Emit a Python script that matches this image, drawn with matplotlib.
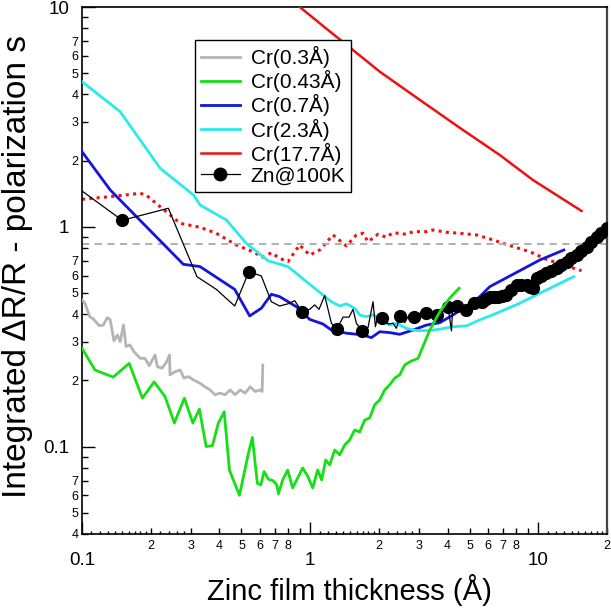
import matplotlib
matplotlib.use('Agg')
import matplotlib.pyplot as plt
from matplotlib.lines import Line2D
from matplotlib.ticker import FixedLocator, FixedFormatter, NullFormatter, NullLocator

plt.rcParams['font.family'] = ['Liberation Sans', 'DejaVu Sans']

# ---------------- data ----------------
gray_x = [0.100, 0.103, 0.108, 0.112, 0.119, 0.124, 0.129, 0.133, 0.138, 0.143, 0.147, 0.152, 0.156, 0.162,
          0.169, 0.180, 0.189, 0.197, 0.209, 0.214, 0.224, 0.235, 0.242, 0.243, 0.256, 0.269, 0.280, 0.293,
          0.308, 0.329, 0.346, 0.364, 0.383, 0.403, 0.424, 0.446, 0.469, 0.493, 0.519, 0.546, 0.574, 0.604,
          0.616, 0.620]
gray_y = [0.464, 0.449, 0.390, 0.381, 0.355, 0.357, 0.386, 0.377, 0.303, 0.322, 0.300, 0.357, 0.285, 0.290,
          0.270, 0.252, 0.252, 0.233, 0.261, 0.231, 0.227, 0.243, 0.261, 0.212, 0.219, 0.223, 0.205, 0.208,
          0.201, 0.194, 0.187, 0.181, 0.172, 0.175, 0.172, 0.181, 0.172, 0.181, 0.175, 0.187, 0.178, 0.181,
          0.178, 0.235]

green_x = [0.100, 0.114, 0.137, 0.161, 0.184, 0.207, 0.231, 0.254, 0.281, 0.306, 0.327, 0.350, 0.373, 0.396,
           0.420, 0.443, 0.490, 0.536, 0.558, 0.587, 0.608, 0.628, 0.656, 0.686, 0.714, 0.726, 0.758, 0.797,
           0.838, 0.882, 0.927, 0.975, 1.026, 1.079, 1.123, 1.170, 1.218, 1.281, 1.347, 1.417, 1.490, 1.567,
           1.648, 1.734, 1.824, 1.918, 2.018, 2.122, 2.232, 2.348, 2.469, 2.597, 2.732, 2.971, 3.343, 3.698,
           4.091, 4.494]
green_y = [0.280, 0.223, 0.207, 0.239, 0.166, 0.197, 0.169, 0.128, 0.166, 0.128, 0.148, 0.100, 0.101, 0.128,
           0.144, 0.078, 0.060, 0.093, 0.110, 0.068, 0.067, 0.077, 0.071, 0.070, 0.067, 0.061, 0.0705, 0.0782,
           0.0648, 0.0720, 0.0799, 0.0735, 0.0648, 0.0782, 0.0705, 0.0869, 0.0825, 0.0965, 0.0916, 0.1017,
           0.1072, 0.119, 0.1165, 0.132, 0.135, 0.155, 0.163, 0.181, 0.191, 0.205, 0.212, 0.235, 0.243, 0.252,
           0.339, 0.410, 0.474, 0.525]

blue_x = [0.100, 0.133, 0.278, 0.329, 0.467, 0.543, 0.611, 0.676, 0.735, 0.870, 0.995, 1.138, 1.239, 1.441,
          1.704, 1.855, 2.018, 2.232, 2.469, 2.824, 3.234, 3.698, 4.229, 4.843, 5.538, 6.128, 7.754, 10.15,
          12.94]
blue_y = [2.196, 1.470, 0.675, 0.659, 0.519, 0.393, 0.426, 0.493, 0.481, 0.433, 0.379, 0.361, 0.339, 0.328,
          0.322, 0.313, 0.333, 0.330, 0.324, 0.339, 0.357, 0.366, 0.397, 0.436, 0.481, 0.534, 0.608, 0.706,
          0.784]

cyan_x = [0.100, 0.147, 0.220, 0.308, 0.329, 0.429, 0.525, 0.653, 0.799, 0.962, 1.138, 1.239, 1.347, 1.441,
          1.567, 1.648, 1.764, 1.886, 2.053, 2.232, 2.388, 2.642, 2.923, 3.343, 3.698, 4.229, 4.843, 5.538,
          6.557, 8.295, 10.86, 14.31]
cyan_y = [4.572, 3.340, 1.846, 1.395, 1.257, 1.074, 0.841, 0.701, 0.659, 0.563, 0.490, 0.456, 0.436, 0.446,
          0.426, 0.397, 0.390, 0.397, 0.379, 0.357, 0.364, 0.345, 0.337, 0.337, 0.342, 0.351, 0.354, 0.377,
          0.404, 0.449, 0.516, 0.593]

red_x = [0.89, 1.197, 1.541, 2.018, 3.022, 4.527, 6.779, 9.489, 15.47]
red_y = [10.1, 7.86, 6.37, 5.08, 3.78, 2.82, 2.12, 1.63, 1.18]

reddot_x = [0.100, 0.133, 0.180, 0.191, 0.220, 0.269, 0.329, 0.388, 0.475, 0.561, 0.621, 0.676, 0.735, 0.799,
            0.899, 0.995, 1.101, 1.259, 1.441, 1.595, 1.704, 1.793, 1.983, 2.159, 2.308, 2.642, 2.824, 3.234,
            3.456, 3.957, 4.527, 5.357, 6.337, 7.754, 9.178, 10.86, 13.30, 15.47]
reddot_y = [1.334, 1.371, 1.420, 1.395, 1.234, 1.037, 0.995, 0.934, 0.826, 0.770, 0.727, 0.762, 0.719, 0.694,
            0.826, 0.744, 0.784, 0.918, 0.818, 0.918, 0.934, 0.855, 0.924, 0.896, 0.940, 0.924, 0.950, 0.950,
            0.967, 0.944, 0.934, 0.918, 0.871, 0.812, 0.770, 0.711, 0.663, 0.631]

zn_x = [0.100, 0.150, 0.239, 0.319, 0.388, 0.467, 0.539, 0.611, 0.676, 0.735, 0.799, 0.855, 0.921, 0.995,
        1.047, 1.093, 1.158, 1.239, 1.311, 1.393, 1.480, 1.541, 1.594, 1.688, 1.793, 1.886, 1.932, 1.983,
        2.073, 2.194, 2.308, 2.388, 2.469, 2.597, 2.712, 2.844, 3.021, 3.234, 3.411, 3.614, 3.774, 4.022,
        4.162, 4.217, 4.405, 4.798, 5.241, 5.637, 5.886, 6.129, 6.381, 6.664, 6.917, 7.253, 7.574, 8.024,
        8.380, 8.877, 9.178, 9.489, 9.820, 10.26, 10.86, 11.34, 12.02, 12.55, 13.30, 13.89, 14.71, 15.37,
        16.27, 16.99, 18.00, 18.80, 19.91]
zn_y = [1.455, 1.070, 1.214, 0.593, 0.519, 0.436, 0.625, 0.597, 0.456, 0.436, 0.446, 0.461, 0.411, 0.421,
        0.441, 0.421, 0.486, 0.364, 0.342, 0.388, 0.388, 0.421, 0.364, 0.336, 0.348, 0.456, 0.351, 0.397,
        0.386, 0.361, 0.364, 0.345, 0.393, 0.366, 0.397, 0.387, 0.404, 0.404, 0.385, 0.397, 0.410, 0.432,
        0.336, 0.432, 0.434, 0.418, 0.449, 0.456, 0.469, 0.478, 0.478, 0.478, 0.484, 0.490, 0.516, 0.544,
        0.544, 0.544, 0.532, 0.525, 0.583, 0.597, 0.614, 0.629, 0.647, 0.670, 0.694, 0.721, 0.744, 0.776,
        0.812, 0.853, 0.902, 0.937, 0.984]
zn_marker_idx = [1, 6, 12, 18, 23, 28, 32, 35, 37, 39, 41, 44] + list(range(45, 75))

ref_level = 0.835

labels = ['Cr(0.3Å)', 'Cr(0.43Å)', 'Cr(0.7Å)', 'Cr(2.3Å)', 'Cr(17.7Å)', 'Zn@100K']

x_major = [0.1, 1, 10]
x_major_labels = ['0.1', '1', '10']
x_minor = [0.2, 0.3, 0.4, 0.5, 0.6, 0.7, 0.8, 0.9, 2, 3, 4, 5, 6, 7, 8, 9, 20]
x_minor_labels = ['2', '3', '4', '5', '6', '7', '8', '', '2', '3', '4', '5', '6', '7', '8', '', '2']
x_small = [0.11, 0.12, 0.13, 0.14, 0.15, 0.16, 0.17, 0.18, 0.19, 0.22, 0.24, 0.26, 0.28,
           1.1, 1.2, 1.3, 1.4, 1.5, 1.6, 1.7, 1.8, 1.9, 2.2, 2.4, 2.6, 2.8,
           11, 12, 13, 14, 15, 16, 17, 18, 19]
y_major = [0.1, 1, 10]
y_major_labels = ['0.1', '1', '10']
y_minor = [0.04, 0.05, 0.06, 0.07, 0.08, 0.09, 0.2, 0.3, 0.4, 0.5, 0.6, 0.7, 0.8, 0.9,
           2, 3, 4, 5, 6, 7, 8, 9]
y_minor_labels = ['4', '5', '6', '7', '', '', '2', '3', '4', '5', '6', '7', '', '',
                  '2', '3', '4', '5', '6', '7', '', '']

# ---------------- figure ----------------
fig = plt.figure(figsize=(6.11, 6.11), dpi=100)
ax = fig.add_axes([82 / 611, 77 / 611, 525 / 611, 527 / 611])
ax.set_xscale('log')
ax.set_yscale('log')

ax.plot(reddot_x, reddot_y, color='#ee1111', lw=2.2, dashes=(1, 1.4), dash_capstyle='butt', zorder=2)
ax.axhline(ref_level, color='#aaaaaa', lw=1.3, dashes=(4, 3), zorder=2)
l_gray, = ax.plot(gray_x, gray_y, color='#b4b4b4', lw=2.0, zorder=3)
l_blue, = ax.plot(blue_x, blue_y, color='#1414dc', lw=2.0, zorder=3)
l_cyan, = ax.plot(cyan_x, cyan_y, color='#2aeaea', lw=2.0, zorder=3)
l_red, = ax.plot(red_x, red_y, color='#ee1111', lw=1.8, zorder=3)
ax.plot(zn_x, zn_y, color='black', lw=0.9, marker='o', ms=8.5, markevery=zn_marker_idx, zorder=4)
l_green, = ax.plot(green_x, green_y, color='#14e014', lw=2.0, zorder=5)
zn_handle = Line2D([], [], color='black', lw=0.9, marker='o', ms=9)

ax.set_xlim(0.1, 20)
ax.set_ylim(0.04, 10)

ax.xaxis.set_major_locator(FixedLocator(x_major))
ax.xaxis.set_major_formatter(FixedFormatter(x_major_labels))
ax.xaxis.set_minor_locator(FixedLocator(x_minor))
ax.xaxis.set_minor_formatter(FixedFormatter(x_minor_labels))
ax.yaxis.set_major_locator(FixedLocator(y_major))
ax.yaxis.set_major_formatter(FixedFormatter(y_major_labels))
ax.yaxis.set_minor_locator(FixedLocator(y_minor))
ax.yaxis.set_minor_formatter(FixedFormatter(y_minor_labels))

ax.tick_params(which='both', direction='in', top=False, right=False, color='black', width=1.0)
ax.tick_params(axis='x', which='major', length=8.6, labelsize=13.5, pad=13.0)
ax.tick_params(axis='x', which='minor', length=4.2, labelsize=9, pad=4.5)
ax.tick_params(axis='y', which='major', length=9.4, labelsize=13.5, pad=9)
ax.tick_params(axis='y', which='minor', length=4.3, labelsize=9, pad=2.5)

for s in ax.spines.values():
    s.set_linewidth(1.2)
    s.set_color('black')
ax.spines['right'].set_color('#444444')
ax.spines['right'].set_linewidth(1.6)

# extra short ticks on x axis
ax2 = ax.twiny()
ax2.set_xscale('log')
ax2.set_xlim(ax.get_xlim())
ax2.xaxis.set_ticks_position('bottom')
ax2.xaxis.set_major_locator(FixedLocator(x_small))
ax2.xaxis.set_major_formatter(NullFormatter())
ax2.xaxis.set_minor_locator(NullLocator())
ax2.tick_params(axis='x', which='major', direction='in', length=2.3, width=1.0, labelbottom=False, labeltop=False)
for s in ax2.spines.values():
    s.set_visible(False)

ax.set_xlabel('Zinc film thickness (Å)', fontsize=21)
ax.set_ylabel('Integrated ΔR/R - polarization s', fontsize=24)
ax.xaxis.set_label_coords(0.509, -0.075)
ax.yaxis.set_label_coords(-0.093, 0.507)

leg = ax.legend([l_gray, l_green, l_blue, l_cyan, l_red, zn_handle], labels,
                loc='upper left', bbox_to_anchor=(0.215, 0.937), borderaxespad=0,
                fontsize=15, frameon=True, fancybox=False, edgecolor='black', framealpha=1,
                borderpad=0.28, labelspacing=0.1, handlelength=1.9, handletextpad=0.5)
leg.get_frame().set_linewidth(1.0)
leg.set_zorder(10)

fig.savefig('out.png', dpi=100)
